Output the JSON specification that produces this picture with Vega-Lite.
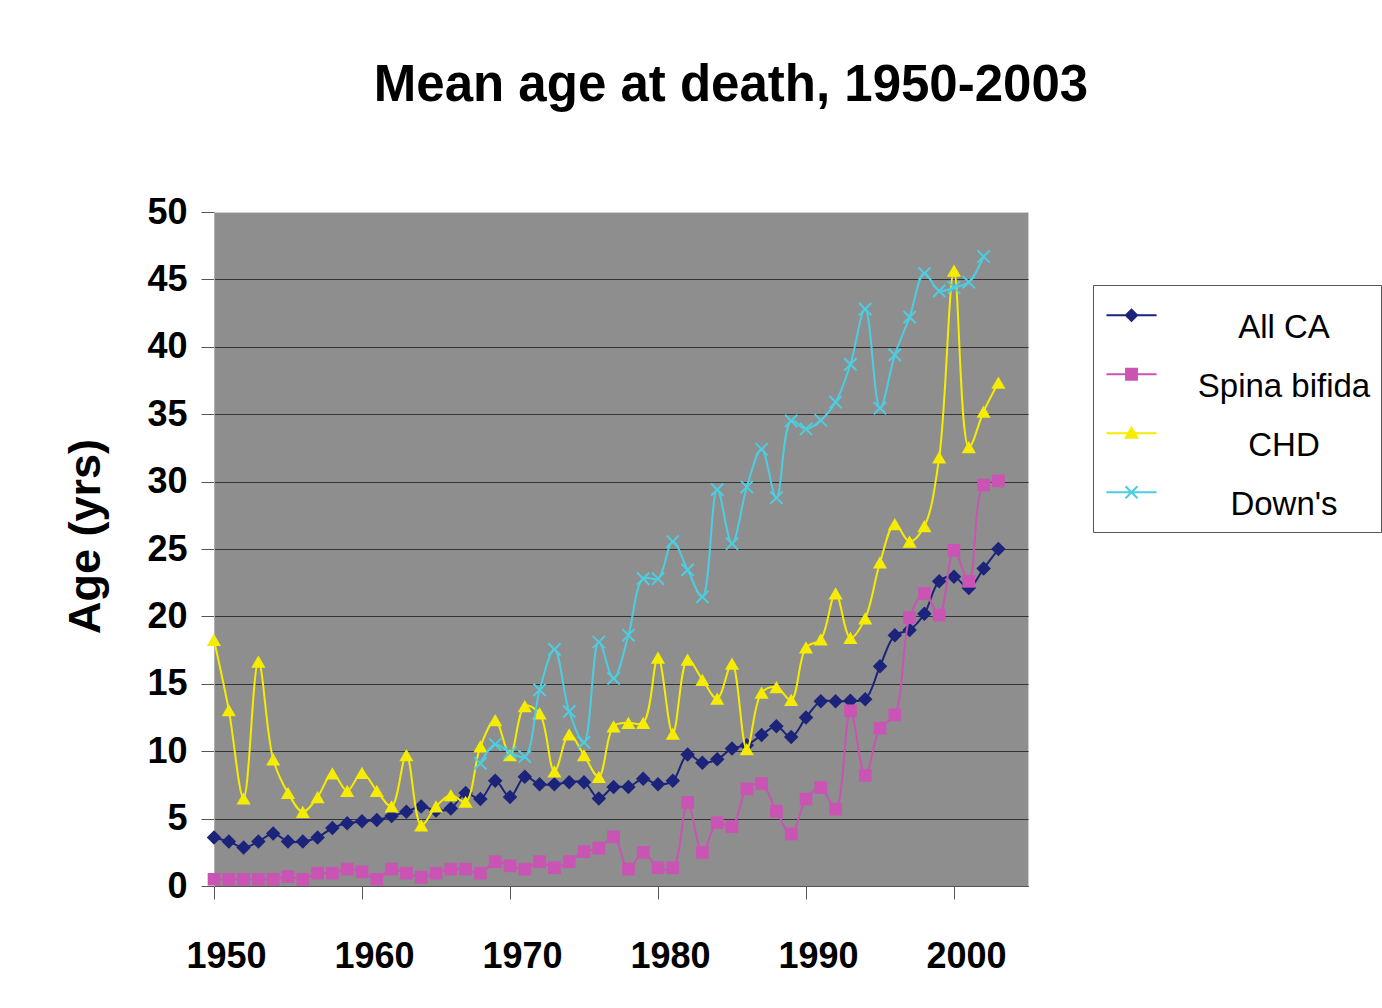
{
  "$schema": "https://vega.github.io/schema/vega-lite/v6.json",
  "width": 814,
  "height": 674,
  "autosize": {"type": "none"},
  "padding": {"left": 214, "top": 212, "right": 354, "bottom": 122},
  "background": "white",
  "title": {
    "text": "Mean age at death, 1950-2003",
    "font": "Liberation Sans",
    "fontWeight": "bold",
    "fontSize": 51,
    "color": "black",
    "anchor": "middle",
    "frame": "group",
    "dx": 110,
    "offset": 82
  },
  "datasets": {
    "ages": [
      {"year": 1950, "series": "All CA", "age": 3.6}, {"year": 1951, "series": "All CA", "age": 3.3}, {"year": 1952, "series": "All CA", "age": 2.85}, {"year": 1953, "series": "All CA", "age": 3.3}, {"year": 1954, "series": "All CA", "age": 3.9}, {"year": 1955, "series": "All CA", "age": 3.3}, {"year": 1956, "series": "All CA", "age": 3.3}, {"year": 1957, "series": "All CA", "age": 3.6}, {"year": 1958, "series": "All CA", "age": 4.3}, {"year": 1959, "series": "All CA", "age": 4.65},
      {"year": 1960, "series": "All CA", "age": 4.8}, {"year": 1961, "series": "All CA", "age": 4.9}, {"year": 1962, "series": "All CA", "age": 5.2}, {"year": 1963, "series": "All CA", "age": 5.5}, {"year": 1964, "series": "All CA", "age": 5.9}, {"year": 1965, "series": "All CA", "age": 5.6}, {"year": 1966, "series": "All CA", "age": 5.75}, {"year": 1967, "series": "All CA", "age": 6.9}, {"year": 1968, "series": "All CA", "age": 6.45}, {"year": 1969, "series": "All CA", "age": 7.8},
      {"year": 1970, "series": "All CA", "age": 6.6}, {"year": 1971, "series": "All CA", "age": 8.1}, {"year": 1972, "series": "All CA", "age": 7.55}, {"year": 1973, "series": "All CA", "age": 7.55}, {"year": 1974, "series": "All CA", "age": 7.7}, {"year": 1975, "series": "All CA", "age": 7.7}, {"year": 1976, "series": "All CA", "age": 6.5}, {"year": 1977, "series": "All CA", "age": 7.35}, {"year": 1978, "series": "All CA", "age": 7.35}, {"year": 1979, "series": "All CA", "age": 7.95},
      {"year": 1980, "series": "All CA", "age": 7.55}, {"year": 1981, "series": "All CA", "age": 7.8}, {"year": 1982, "series": "All CA", "age": 9.75}, {"year": 1983, "series": "All CA", "age": 9.15}, {"year": 1984, "series": "All CA", "age": 9.4}, {"year": 1985, "series": "All CA", "age": 10.2}, {"year": 1986, "series": "All CA", "age": 10.45}, {"year": 1987, "series": "All CA", "age": 11.2}, {"year": 1988, "series": "All CA", "age": 11.85}, {"year": 1989, "series": "All CA", "age": 11.05},
      {"year": 1990, "series": "All CA", "age": 12.5}, {"year": 1991, "series": "All CA", "age": 13.7}, {"year": 1992, "series": "All CA", "age": 13.7}, {"year": 1993, "series": "All CA", "age": 13.75}, {"year": 1994, "series": "All CA", "age": 13.85}, {"year": 1995, "series": "All CA", "age": 16.3}, {"year": 1996, "series": "All CA", "age": 18.6}, {"year": 1997, "series": "All CA", "age": 19.0}, {"year": 1998, "series": "All CA", "age": 20.2}, {"year": 1999, "series": "All CA", "age": 22.6},
      {"year": 2000, "series": "All CA", "age": 22.95}, {"year": 2001, "series": "All CA", "age": 22.1}, {"year": 2002, "series": "All CA", "age": 23.55}, {"year": 2003, "series": "All CA", "age": 25.0},

      {"year": 1950, "series": "Spina bifida", "age": 0.5}, {"year": 1951, "series": "Spina bifida", "age": 0.5}, {"year": 1952, "series": "Spina bifida", "age": 0.5}, {"year": 1953, "series": "Spina bifida", "age": 0.5}, {"year": 1954, "series": "Spina bifida", "age": 0.5}, {"year": 1955, "series": "Spina bifida", "age": 0.7}, {"year": 1956, "series": "Spina bifida", "age": 0.5}, {"year": 1957, "series": "Spina bifida", "age": 0.95}, {"year": 1958, "series": "Spina bifida", "age": 0.95}, {"year": 1959, "series": "Spina bifida", "age": 1.25},
      {"year": 1960, "series": "Spina bifida", "age": 1.05}, {"year": 1961, "series": "Spina bifida", "age": 0.5}, {"year": 1962, "series": "Spina bifida", "age": 1.25}, {"year": 1963, "series": "Spina bifida", "age": 0.95}, {"year": 1964, "series": "Spina bifida", "age": 0.65}, {"year": 1965, "series": "Spina bifida", "age": 0.95}, {"year": 1966, "series": "Spina bifida", "age": 1.25}, {"year": 1967, "series": "Spina bifida", "age": 1.25}, {"year": 1968, "series": "Spina bifida", "age": 0.95}, {"year": 1969, "series": "Spina bifida", "age": 1.8},
      {"year": 1970, "series": "Spina bifida", "age": 1.5}, {"year": 1971, "series": "Spina bifida", "age": 1.25}, {"year": 1972, "series": "Spina bifida", "age": 1.8}, {"year": 1973, "series": "Spina bifida", "age": 1.35}, {"year": 1974, "series": "Spina bifida", "age": 1.8}, {"year": 1975, "series": "Spina bifida", "age": 2.55}, {"year": 1976, "series": "Spina bifida", "age": 2.8}, {"year": 1977, "series": "Spina bifida", "age": 3.65}, {"year": 1978, "series": "Spina bifida", "age": 1.25}, {"year": 1979, "series": "Spina bifida", "age": 2.5},
      {"year": 1980, "series": "Spina bifida", "age": 1.35}, {"year": 1981, "series": "Spina bifida", "age": 1.35}, {"year": 1982, "series": "Spina bifida", "age": 6.2}, {"year": 1983, "series": "Spina bifida", "age": 2.5}, {"year": 1984, "series": "Spina bifida", "age": 4.7}, {"year": 1985, "series": "Spina bifida", "age": 4.4}, {"year": 1986, "series": "Spina bifida", "age": 7.2}, {"year": 1987, "series": "Spina bifida", "age": 7.6}, {"year": 1988, "series": "Spina bifida", "age": 5.55}, {"year": 1989, "series": "Spina bifida", "age": 3.85},
      {"year": 1990, "series": "Spina bifida", "age": 6.45}, {"year": 1991, "series": "Spina bifida", "age": 7.3}, {"year": 1992, "series": "Spina bifida", "age": 5.7}, {"year": 1993, "series": "Spina bifida", "age": 13.0}, {"year": 1994, "series": "Spina bifida", "age": 8.2}, {"year": 1995, "series": "Spina bifida", "age": 11.7}, {"year": 1996, "series": "Spina bifida", "age": 12.7}, {"year": 1997, "series": "Spina bifida", "age": 19.9}, {"year": 1998, "series": "Spina bifida", "age": 21.7}, {"year": 1999, "series": "Spina bifida", "age": 20.1},
      {"year": 2000, "series": "Spina bifida", "age": 24.9}, {"year": 2001, "series": "Spina bifida", "age": 22.6}, {"year": 2002, "series": "Spina bifida", "age": 29.75}, {"year": 2003, "series": "Spina bifida", "age": 30.05},

      {"year": 1950, "series": "CHD", "age": 18.25}, {"year": 1951, "series": "CHD", "age": 13.05}, {"year": 1952, "series": "CHD", "age": 6.5}, {"year": 1953, "series": "CHD", "age": 16.65}, {"year": 1954, "series": "CHD", "age": 9.4}, {"year": 1955, "series": "CHD", "age": 6.9}, {"year": 1956, "series": "CHD", "age": 5.5}, {"year": 1957, "series": "CHD", "age": 6.6}, {"year": 1958, "series": "CHD", "age": 8.35}, {"year": 1959, "series": "CHD", "age": 7.05},
      {"year": 1960, "series": "CHD", "age": 8.4}, {"year": 1961, "series": "CHD", "age": 7.05}, {"year": 1962, "series": "CHD", "age": 5.9}, {"year": 1963, "series": "CHD", "age": 9.7}, {"year": 1964, "series": "CHD", "age": 4.5}, {"year": 1965, "series": "CHD", "age": 5.9}, {"year": 1966, "series": "CHD", "age": 6.75}, {"year": 1967, "series": "CHD", "age": 6.25}, {"year": 1968, "series": "CHD", "age": 10.35}, {"year": 1969, "series": "CHD", "age": 12.3},
      {"year": 1970, "series": "CHD", "age": 9.7}, {"year": 1971, "series": "CHD", "age": 13.35}, {"year": 1972, "series": "CHD", "age": 12.8}, {"year": 1973, "series": "CHD", "age": 8.5}, {"year": 1974, "series": "CHD", "age": 11.25}, {"year": 1975, "series": "CHD", "age": 9.7}, {"year": 1976, "series": "CHD", "age": 8.1}, {"year": 1977, "series": "CHD", "age": 11.85}, {"year": 1978, "series": "CHD", "age": 12.1}, {"year": 1979, "series": "CHD", "age": 12.1},
      {"year": 1980, "series": "CHD", "age": 16.95}, {"year": 1981, "series": "CHD", "age": 11.3}, {"year": 1982, "series": "CHD", "age": 16.8}, {"year": 1983, "series": "CHD", "age": 15.3}, {"year": 1984, "series": "CHD", "age": 13.9}, {"year": 1985, "series": "CHD", "age": 16.5}, {"year": 1986, "series": "CHD", "age": 10.15}, {"year": 1987, "series": "CHD", "age": 14.35}, {"year": 1988, "series": "CHD", "age": 14.75}, {"year": 1989, "series": "CHD", "age": 13.8},
      {"year": 1990, "series": "CHD", "age": 17.7}, {"year": 1991, "series": "CHD", "age": 18.3}, {"year": 1992, "series": "CHD", "age": 21.7}, {"year": 1993, "series": "CHD", "age": 18.4}, {"year": 1994, "series": "CHD", "age": 19.85}, {"year": 1995, "series": "CHD", "age": 24.0}, {"year": 1996, "series": "CHD", "age": 26.85}, {"year": 1997, "series": "CHD", "age": 25.55}, {"year": 1998, "series": "CHD", "age": 26.7}, {"year": 1999, "series": "CHD", "age": 31.8},
      {"year": 2000, "series": "CHD", "age": 45.65}, {"year": 2001, "series": "CHD", "age": 32.55}, {"year": 2002, "series": "CHD", "age": 35.2}, {"year": 2003, "series": "CHD", "age": 37.35},

      {"year": 1968, "series": "Down's", "age": 9.1}, {"year": 1969, "series": "Down's", "age": 10.5},
      {"year": 1970, "series": "Down's", "age": 9.9}, {"year": 1971, "series": "Down's", "age": 9.6}, {"year": 1972, "series": "Down's", "age": 14.55}, {"year": 1973, "series": "Down's", "age": 17.55}, {"year": 1974, "series": "Down's", "age": 12.95}, {"year": 1975, "series": "Down's", "age": 10.65}, {"year": 1976, "series": "Down's", "age": 18.1}, {"year": 1977, "series": "Down's", "age": 15.4}, {"year": 1978, "series": "Down's", "age": 18.6}, {"year": 1979, "series": "Down's", "age": 22.8},
      {"year": 1980, "series": "Down's", "age": 22.8}, {"year": 1981, "series": "Down's", "age": 25.55}, {"year": 1982, "series": "Down's", "age": 23.45}, {"year": 1983, "series": "Down's", "age": 21.45}, {"year": 1984, "series": "Down's", "age": 29.4}, {"year": 1985, "series": "Down's", "age": 25.4}, {"year": 1986, "series": "Down's", "age": 29.6}, {"year": 1987, "series": "Down's", "age": 32.4}, {"year": 1988, "series": "Down's", "age": 28.8}, {"year": 1989, "series": "Down's", "age": 34.5},
      {"year": 1990, "series": "Down's", "age": 33.9}, {"year": 1991, "series": "Down's", "age": 34.55}, {"year": 1992, "series": "Down's", "age": 35.9}, {"year": 1993, "series": "Down's", "age": 38.7}, {"year": 1994, "series": "Down's", "age": 42.8}, {"year": 1995, "series": "Down's", "age": 35.45}, {"year": 1996, "series": "Down's", "age": 39.4}, {"year": 1997, "series": "Down's", "age": 42.2}, {"year": 1998, "series": "Down's", "age": 45.45}, {"year": 1999, "series": "Down's", "age": 44.15},
      {"year": 2000, "series": "Down's", "age": 44.4}, {"year": 2001, "series": "Down's", "age": 44.8}, {"year": 2002, "series": "Down's", "age": 46.7}
    ]
  },
  "data": {"name": "ages"},
  "encoding": {
    "x": {
      "field": "year",
      "type": "quantitative",
      "scale": {"domain": [1950, 2005], "nice": false, "zero": false},
      "axis": {
        "values": [1950, 1960, 1970, 1980, 1990, 2000],
        "format": "d",
        "grid": false,
        "title": null,
        "tickSize": 13,
        "tickColor": "#555555",
        "domainColor": "#555555",
        "labelFont": "Liberation Sans",
        "labelFontWeight": "bold",
        "labelFontSize": 36,
        "labelColor": "black",
        "labelPadding": 40,
        "labelOffset": 12,
        "labelOverlap": false,
        "labelFlush": false
      }
    },
    "y": {
      "field": "age",
      "type": "quantitative",
      "scale": {"domain": [0, 50], "nice": false},
      "axis": {
        "values": [0, 5, 10, 15, 20, 25, 30, 35, 40, 45, 50],
        "grid": true,
        "gridColor": {"condition": {"test": "datum.value == 50", "value": "#cfcfcf"}, "value": "#333333"},
        "gridWidth": 1,
        "tickSize": 13,
        "tickColor": "#555555",
        "domainColor": "#b0b0b0",
        "labelFont": "Liberation Sans",
        "labelFontWeight": "bold",
        "labelFontSize": 36,
        "labelColor": "black",
        "labelPadding": 14,
        "title": "Age (yrs)",
        "titleFont": "Liberation Sans",
        "titleFontWeight": "bold",
        "titleFontSize": 45,
        "titleColor": "black",
        "titleX": -106,
        "titleY": 324
      }
    }
  },
  "layer": [
    {
      "transform": [{"filter": "datum.series == 'All CA'"}],
      "mark": {"type": "line", "interpolate": "catmull-rom", "strokeWidth": 2, "color": "#1b237a",
        "point": {"shape": "diamond", "filled": true, "size": 210, "fill": "#1b237a", "opacity": 1}}
    },
    {
      "transform": [{"filter": "datum.series == 'Spina bifida'"}],
      "mark": {"type": "line", "interpolate": "catmull-rom", "strokeWidth": 2, "color": "#c954b4",
        "point": {"shape": "square", "filled": true, "size": 160, "fill": "#c954b4", "opacity": 1}}
    },
    {
      "transform": [{"filter": "datum.series == 'CHD'"}],
      "mark": {"type": "line", "interpolate": "catmull-rom", "strokeWidth": 2, "color": "#f5ec00",
        "point": {"shape": "triangle-up", "filled": true, "size": 200, "fill": "#f5ec00", "opacity": 1}}
    },
    {
      "transform": [{"filter": "datum.series == \"Down's\""}],
      "mark": {"type": "line", "interpolate": "catmull-rom", "strokeWidth": 2, "color": "#4dcde0",
        "point": {"shape": "M-1,-1L1,1M1,-1L-1,1", "filled": false, "size": 150, "stroke": "#4dcde0", "strokeWidth": 2, "opacity": 1}}
    },
    {
      "transform": [{"filter": "datum.year > 3000"}],
      "mark": {"type": "point", "filled": true},
      "encoding": {
        "color": {
          "field": "series",
          "type": "nominal",
          "scale": {"domain": ["All CA", "Spina bifida", "CHD", "Down's"], "range": ["#1b237a", "#c954b4", "#f5ec00", "#4dcde0"]},
          "title": null
        },
        "shape": {
          "field": "series",
          "type": "nominal",
          "scale": {
            "domain": ["All CA", "Spina bifida", "CHD", "Down's"],
            "range": [
              "M-1.67,0.183H1.67V0.317H-1.67Z M0,-0.22L0.47,0.25L0,0.72L-0.47,0.25Z",
              "M-1.67,0.183H1.67V0.317H-1.67Z M-0.43,-0.18H0.43V0.68H-0.43Z",
              "M-1.67,0.183H1.67V0.317H-1.67Z M0,-0.25L0.5,0.62H-0.5Z",
              "M-1.67,0.183H1.67V0.317H-1.67Z M-0.45,-0.1L-0.35,-0.2L0.45,0.6L0.35,0.7Z M0.35,-0.2L0.45,-0.1L-0.35,0.7L-0.45,0.6Z"
            ]
          },
          "title": null
        }
      }
    }
  ],
  "config": {
    "view": {"fill": "#8e8e8e", "stroke": "#cfcfcf", "strokeWidth": 1},
    "legend": {
      "orient": "none",
      "legendX": 879,
      "legendY": 73,
      "padding": 10,
      "strokeColor": "#555555",
      "fillColor": "white",
      "cornerRadius": 0,
      "symbolSize": 900,
      "symbolStrokeWidth": 0,
      "symbolOpacity": 1,
      "symbolOffset": 12,
      "rowPadding": 9,
      "labelFont": "Liberation Sans",
      "labelFontSize": 33,
      "labelColor": "black",
      "labelAlign": "center",
      "labelBaseline": "top",
      "labelOffset": 136,
      "labelLimit": 400
    }
  }
}
